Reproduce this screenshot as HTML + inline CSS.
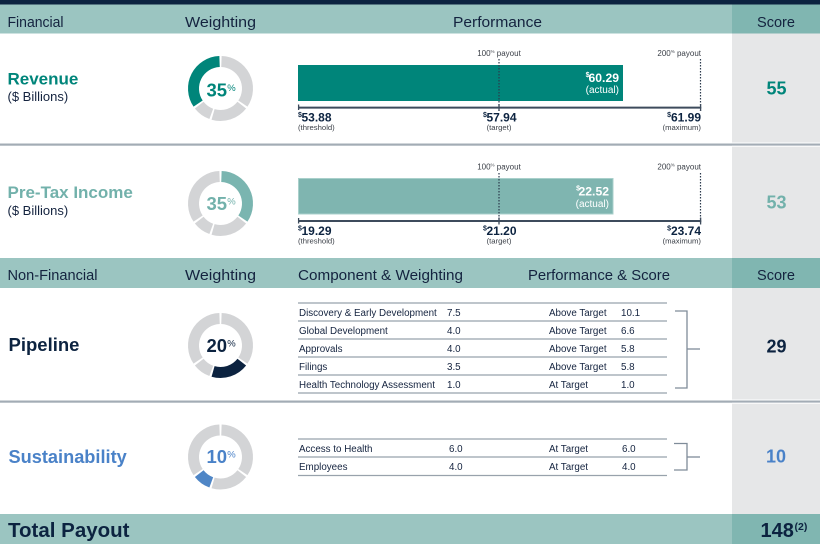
<!DOCTYPE html>
<html>
<head>
<meta charset="utf-8">
<style>
html,body{margin:0;padding:0;background:#fff;}
body{width:820px;height:544px;overflow:hidden;}
svg{display:block;font-family:"Liberation Sans",Arial,sans-serif;}
</style>
</head>
<body>
<svg width="820" height="544" viewBox="0 0 820 544" xmlns="http://www.w3.org/2000/svg">
  <!-- backgrounds -->
  <rect x="0" y="0" width="820" height="544" fill="#ffffff"/>
  <rect x="0" y="0" width="820" height="4.5" fill="#0c2340"/>
  <rect x="0" y="4.5" width="820" height="29" fill="#9bc5c1"/>
  <rect x="732" y="4.5" width="88" height="29" fill="#80b6b1"/>
  <rect x="732" y="33.5" width="88" height="225" fill="#e6e7e8"/>
  <rect x="0" y="258" width="820" height="30" fill="#9bc5c1"/>
  <rect x="732" y="258" width="88" height="30" fill="#80b6b1"/>
  <rect x="732" y="288" width="88" height="226" fill="#e6e7e8"/>
  <rect x="0" y="514" width="820" height="30" fill="#9bc5c1"/>
  <rect x="732" y="514" width="88" height="30" fill="#80b6b1"/>

  <!-- separators -->
  <rect x="732" y="142.5" width="88" height="1" fill="#ffffff"/>
  <rect x="0" y="143.5" width="820" height="2.2" fill="#a3acb5"/>
  <rect x="732" y="145.7" width="88" height="1" fill="#ffffff"/>
  <rect x="732" y="399.5" width="88" height="1" fill="#ffffff"/>
  <rect x="0" y="400.5" width="820" height="2.2" fill="#a3acb5"/>
  <rect x="732" y="402.7" width="88" height="1" fill="#ffffff"/>

  <!-- header 1 -->
  <g fill="#14233f" font-size="15.2">
    <text x="7.5" y="27" textLength="56" lengthAdjust="spacingAndGlyphs">Financial</text>
    <text x="185" y="27" textLength="71" lengthAdjust="spacingAndGlyphs">Weighting</text>
    <text x="453" y="27" textLength="89" lengthAdjust="spacingAndGlyphs">Performance</text>
    <text x="757" y="27" textLength="38" lengthAdjust="spacingAndGlyphs">Score</text>
  </g>
  <!-- header 2 -->
  <g fill="#14233f" font-size="15.2">
    <text x="7.5" y="280" textLength="90" lengthAdjust="spacingAndGlyphs">Non-Financial</text>
    <text x="185" y="280" textLength="71" lengthAdjust="spacingAndGlyphs">Weighting</text>
    <text x="298" y="280" textLength="165" lengthAdjust="spacingAndGlyphs">Component &amp; Weighting</text>
    <text x="528" y="280" textLength="142" lengthAdjust="spacingAndGlyphs">Performance &amp; Score</text>
    <text x="757" y="280" textLength="38" lengthAdjust="spacingAndGlyphs">Score</text>
  </g>

  <!-- left labels -->
  <text x="7.5" y="84.5" font-size="17" font-weight="bold" fill="#00857a">Revenue</text>
  <text x="7.5" y="101" font-size="13" fill="#14233f">($ Billions)</text>
  <text x="7.5" y="198" font-size="17" font-weight="bold" fill="#72b1ab">Pre-Tax Income</text>
  <text x="7.5" y="215" font-size="13" fill="#14233f">($ Billions)</text>
  <text x="8.5" y="351" font-size="18.5" font-weight="bold" fill="#0c2340">Pipeline</text>
  <text x="8.5" y="463" font-size="18.2" font-weight="bold" fill="#4a82c8">Sustainability</text>
  <text x="8" y="537" font-size="20.5" font-weight="bold" fill="#0c2340">Total Payout</text>

  <!-- donuts -->
  <defs>
    <g id="ring">
      <path d="M0.94,-26.98 A27,27 0 0 1 22.38,15.10" />
      <path d="M21.28,16.62 A27,27 0 0 1 -7.44,25.95" />
      <path d="M-9.23,25.37 A27,27 0 0 1 -21.28,16.62" />
      <path d="M-22.38,15.10 A27,27 0 0 1 -0.94,-26.98" />
    </g>
  </defs>
  <!-- Revenue donut -->
  <g transform="translate(220.5,88.5)" fill="none" stroke-width="11">
    <path d="M0.94,-26.98 A27,27 0 0 1 22.38,15.10" stroke="#d3d4d6"/>
    <path d="M21.28,16.62 A27,27 0 0 1 -7.44,25.95" stroke="#d3d4d6"/>
    <path d="M-9.23,25.37 A27,27 0 0 1 -21.28,16.62" stroke="#d3d4d6"/>
    <path d="M-22.38,15.10 A27,27 0 0 1 -0.94,-26.98" stroke="#00857a"/>
  </g>
  <text x="206.5" y="96.5" font-size="18.5" font-weight="bold" fill="#00857a">35</text>
  <text x="227.3" y="91" font-size="9.5" fill="#00857a">%</text>

  <!-- Pre-tax donut -->
  <g transform="translate(220.5,203.5)" fill="none" stroke-width="11">
    <path d="M0.94,-26.98 A27,27 0 0 1 22.38,15.10" stroke="#7ab5b0"/>
    <path d="M21.28,16.62 A27,27 0 0 1 -7.44,25.95" stroke="#d3d4d6"/>
    <path d="M-9.23,25.37 A27,27 0 0 1 -21.28,16.62" stroke="#d3d4d6"/>
    <path d="M-22.38,15.10 A27,27 0 0 1 -0.94,-26.98" stroke="#d3d4d6"/>
  </g>
  <text x="206.5" y="209.8" font-size="18.5" font-weight="bold" fill="#72b1ab">35</text>
  <text x="227.3" y="204.3" font-size="9.5" fill="#72b1ab">%</text>

  <!-- Pipeline donut -->
  <g transform="translate(220.5,345.5)" fill="none" stroke-width="11">
    <path d="M0.94,-26.98 A27,27 0 0 1 22.38,15.10" stroke="#d3d4d6"/>
    <path d="M21.28,16.62 A27,27 0 0 1 -7.44,25.95" stroke="#0c2340"/>
    <path d="M-9.23,25.37 A27,27 0 0 1 -21.28,16.62" stroke="#d3d4d6"/>
    <path d="M-22.38,15.10 A27,27 0 0 1 -0.94,-26.98" stroke="#d3d4d6"/>
  </g>
  <text x="206.5" y="351.8" font-size="18.5" font-weight="bold" fill="#0c2340">20</text>
  <text x="227.3" y="346.3" font-size="9.5" fill="#0c2340">%</text>

  <!-- Sustainability donut -->
  <g transform="translate(220.5,457)" fill="none" stroke-width="11">
    <path d="M0.94,-26.98 A27,27 0 0 1 22.38,15.10" stroke="#d3d4d6"/>
    <path d="M21.28,16.62 A27,27 0 0 1 -7.44,25.95" stroke="#d3d4d6"/>
    <path d="M-9.23,25.37 A27,27 0 0 1 -21.28,16.62" stroke="#4f86c6"/>
    <path d="M-22.38,15.10 A27,27 0 0 1 -0.94,-26.98" stroke="#d3d4d6"/>
  </g>
  <text x="206.5" y="462.8" font-size="18.5" font-weight="bold" fill="#4a82c8">10</text>
  <text x="227.3" y="457.3" font-size="9.5" fill="#4a82c8">%</text>

  <!-- Revenue performance -->
  <g>
    <text x="499" y="56" font-size="8" fill="#3a3f47" text-anchor="middle">100<tspan font-size="4.5" dy="-3">%</tspan><tspan dy="3"> payout</tspan></text>
    <text x="701" y="56" font-size="8" fill="#3a3f47" text-anchor="end">200<tspan font-size="4.5" dy="-3">%</tspan><tspan dy="3"> payout</tspan></text>
    <rect x="298" y="65" width="325" height="36" fill="#00857a"/>
    <line x1="499" y1="59" x2="499" y2="111" stroke="#2b3a4d" stroke-width="1.2" stroke-dasharray="1.5,1.5"/>
    <line x1="700.5" y1="59" x2="700.5" y2="111" stroke="#2b3a4d" stroke-width="1.2" stroke-dasharray="1.5,1.5"/>
    <line x1="298" y1="107.6" x2="701.2" y2="107.6" stroke="#3d4b5c" stroke-width="2"/>
    <line x1="298.6" y1="104.5" x2="298.6" y2="110" stroke="#3d4b5c" stroke-width="1.3"/>
    <line x1="499" y1="104" x2="499" y2="111" stroke="#3d4b5c" stroke-width="1.3"/>
    <line x1="700.6" y1="104" x2="700.6" y2="111" stroke="#3d4b5c" stroke-width="1.3"/>
    <text x="589.5" y="77" font-size="7" font-weight="bold" fill="#ffffff" text-anchor="end">$</text>
    <text x="619" y="82" font-size="12.2" font-weight="bold" fill="#ffffff" text-anchor="end">60.29</text>
    <text x="619" y="93" font-size="10" fill="#ffffff" text-anchor="end">(actual)</text>

    <text x="298" y="117" font-size="7" font-weight="bold" fill="#0c2340">$</text>
    <text x="301.5" y="121.7" font-size="12" font-weight="bold" fill="#0c2340">53.88</text>
    <text x="298" y="130" font-size="7.7" fill="#3a3f47">(threshold)</text>
    <text x="483" y="117" font-size="7" font-weight="bold" fill="#0c2340">$</text>
    <text x="486.5" y="121.7" font-size="12" font-weight="bold" fill="#0c2340">57.94</text>
    <text x="499" y="130" font-size="7.7" fill="#3a3f47" text-anchor="middle">(target)</text>
    <text x="671" y="117" font-size="7" font-weight="bold" fill="#0c2340" text-anchor="end">$</text>
    <text x="701" y="121.7" font-size="12" font-weight="bold" fill="#0c2340" text-anchor="end">61.99</text>
    <text x="701" y="130" font-size="7.7" fill="#3a3f47" text-anchor="end">(maximum)</text>
  </g>

  <!-- Pre-tax performance -->
  <g>
    <text x="499" y="169.3" font-size="8" fill="#3a3f47" text-anchor="middle">100<tspan font-size="4.5" dy="-3">%</tspan><tspan dy="3"> payout</tspan></text>
    <text x="701" y="169.3" font-size="8" fill="#3a3f47" text-anchor="end">200<tspan font-size="4.5" dy="-3">%</tspan><tspan dy="3"> payout</tspan></text>
    <rect x="298.5" y="178.5" width="314.5" height="35.5" fill="#7fb5b0" stroke="#a9d0cb" stroke-width="1"/>
    <line x1="499" y1="173" x2="499" y2="224" stroke="#2b3a4d" stroke-width="1.2" stroke-dasharray="1.5,1.5"/>
    <line x1="700.5" y1="173" x2="700.5" y2="224" stroke="#2b3a4d" stroke-width="1.2" stroke-dasharray="1.5,1.5"/>
    <line x1="298" y1="221" x2="701.2" y2="221" stroke="#3d4b5c" stroke-width="2"/>
    <line x1="298.6" y1="218" x2="298.6" y2="223.5" stroke="#3d4b5c" stroke-width="1.3"/>
    <line x1="499" y1="217.5" x2="499" y2="224.5" stroke="#3d4b5c" stroke-width="1.3"/>
    <line x1="700.6" y1="217.5" x2="700.6" y2="224.5" stroke="#3d4b5c" stroke-width="1.3"/>
    <text x="580" y="190.3" font-size="7" font-weight="bold" fill="#ffffff" text-anchor="end">$</text>
    <text x="609" y="195.5" font-size="12.2" font-weight="bold" fill="#ffffff" text-anchor="end">22.52</text>
    <text x="609" y="207" font-size="10" fill="#ffffff" text-anchor="end">(actual)</text>

    <text x="298" y="230.5" font-size="7" font-weight="bold" fill="#0c2340">$</text>
    <text x="301.5" y="235" font-size="12" font-weight="bold" fill="#0c2340">19.29</text>
    <text x="298" y="243.3" font-size="7.7" fill="#3a3f47">(threshold)</text>
    <text x="483" y="230.5" font-size="7" font-weight="bold" fill="#0c2340">$</text>
    <text x="486.5" y="235" font-size="12" font-weight="bold" fill="#0c2340">21.20</text>
    <text x="499" y="243.3" font-size="7.7" fill="#3a3f47" text-anchor="middle">(target)</text>
    <text x="671" y="230.5" font-size="7" font-weight="bold" fill="#0c2340" text-anchor="end">$</text>
    <text x="701" y="235" font-size="12" font-weight="bold" fill="#0c2340" text-anchor="end">23.74</text>
    <text x="701" y="243.3" font-size="7.7" fill="#3a3f47" text-anchor="end">(maximum)</text>
  </g>

  <!-- Pipeline table -->
  <g stroke="#98a2ac" stroke-width="1.3">
    <line x1="298" y1="303" x2="667" y2="303"/>
    <line x1="298" y1="321" x2="667" y2="321"/>
    <line x1="298" y1="339" x2="667" y2="339"/>
    <line x1="298" y1="357" x2="667" y2="357"/>
    <line x1="298" y1="375" x2="667" y2="375"/>
    <line x1="298" y1="393" x2="667" y2="393"/>
  </g>
  <g fill="#14233f" font-size="9.8">
    <text x="299" y="316">Discovery &amp; Early Development</text>
    <text x="447" y="316">7.5</text>
    <text x="549" y="316">Above Target</text>
    <text x="621" y="316">10.1</text>
    <text x="299" y="334">Global Development</text>
    <text x="447" y="334">4.0</text>
    <text x="549" y="334">Above Target</text>
    <text x="621" y="334">6.6</text>
    <text x="299" y="352">Approvals</text>
    <text x="447" y="352">4.0</text>
    <text x="549" y="352">Above Target</text>
    <text x="621" y="352">5.8</text>
    <text x="299" y="370">Filings</text>
    <text x="447" y="370">3.5</text>
    <text x="549" y="370">Above Target</text>
    <text x="621" y="370">5.8</text>
    <text x="299" y="388">Health Technology Assessment</text>
    <text x="447" y="388">1.0</text>
    <text x="549" y="388">At Target</text>
    <text x="621" y="388">1.0</text>
  </g>
  <g stroke="#7f8c99" stroke-width="1.3" fill="none">
    <path d="M675,311 H687 V388 H675"/>
    <line x1="687" y1="349" x2="700" y2="349"/>
  </g>

  <!-- Sustainability table -->
  <g stroke="#98a2ac" stroke-width="1.3">
    <line x1="298" y1="439" x2="667" y2="439"/>
    <line x1="298" y1="457" x2="667" y2="457"/>
    <line x1="298" y1="475.5" x2="667" y2="475.5"/>
  </g>
  <g fill="#14233f" font-size="9.8">
    <text x="299" y="452">Access to Health</text>
    <text x="449" y="452">6.0</text>
    <text x="549" y="452">At Target</text>
    <text x="622" y="452">6.0</text>
    <text x="299" y="470">Employees</text>
    <text x="449" y="470">4.0</text>
    <text x="549" y="470">At Target</text>
    <text x="622" y="470">4.0</text>
  </g>
  <g stroke="#7f8c99" stroke-width="1.3" fill="none">
    <path d="M674,443.5 H687 V470 H674"/>
    <line x1="687" y1="457" x2="700" y2="457"/>
  </g>

  <!-- Scores -->
  <g font-weight="bold" font-size="18" text-anchor="middle">
    <text x="776.5" y="94.5" fill="#00857a">55</text>
    <text x="776.5" y="208.5" fill="#72b1ab">53</text>
    <text x="776.5" y="352.5" fill="#0c2340">29</text>
    <text x="776" y="462.5" fill="#4a82c8">10</text>
  </g>
  <text x="760.5" y="537" font-size="20" font-weight="bold" fill="#0c2340">148</text>
  <text x="794.5" y="530" font-size="10.5" font-weight="bold" fill="#0c2340">(2)</text>
</svg>
</body>
</html>
